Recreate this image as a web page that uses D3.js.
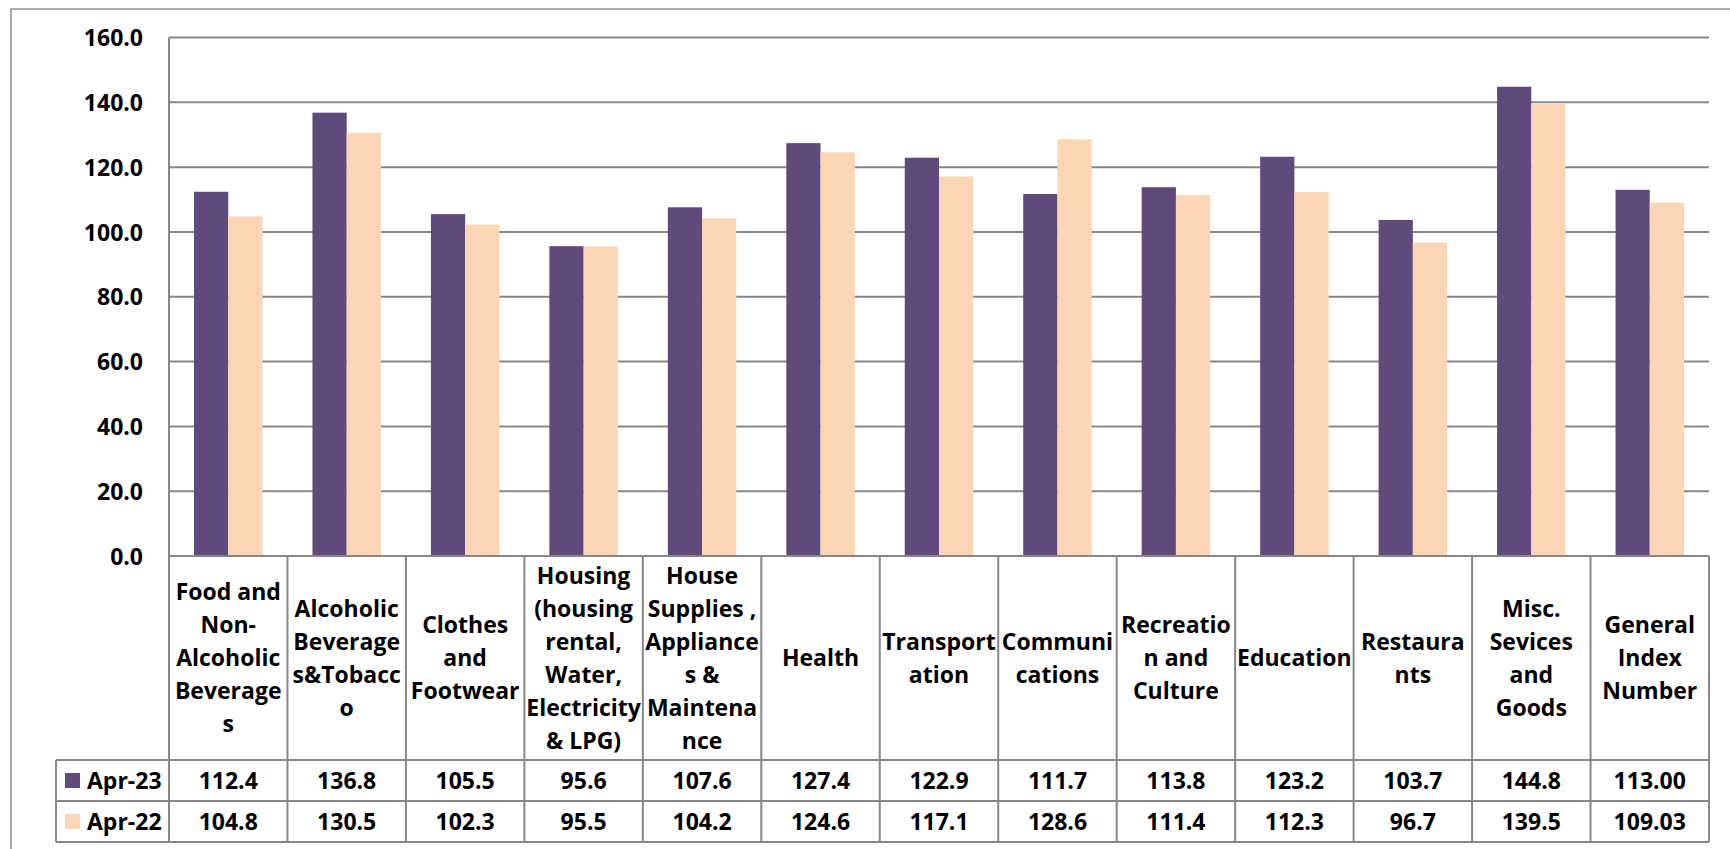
<!DOCTYPE html>
<html>
<head>
<meta charset="utf-8">
<script src="https://cdn.jsdelivr.net/npm/d3@7"></script>
<style>
  html, body { margin: 0; padding: 0; background: #fff; }
  svg { display: block; }
  text { font-family: "Open Sans", Lato, sans-serif; font-weight: bold; fill: #000; }
</style>
</head>
<body>
<svg id="chart" width="1730" height="849"></svg>
<script>
// ---- data ----
const categories = [
  "Food and\nNon-\nAlcoholic\nBeverage\ns",
  "Alcoholic\nBeverage\ns&Tobacc\no",
  "Clothes\nand\nFootwear",
  "Housing\n(housing\nrental,\nWater,\nElectricity\n& LPG)",
  "House\nSupplies ,\nAppliance\ns &\nMaintena\nnce",
  "Health",
  "Transport\nation",
  "Communi\ncations",
  "Recreatio\nn and\nCulture",
  "Education",
  "Restaura\nnts",
  "Misc.\nSevices\nand\nGoods",
  "General\nIndex\nNumber"
];
const seriesNames = ["Apr-23", "Apr-22"];
const apr23 = [112.4, 136.8, 105.5, 95.6, 107.6, 127.4, 122.9, 111.7, 113.8, 123.2, 103.7, 144.8, 113.00];
const apr22 = [104.8, 130.5, 102.3, 95.5, 104.2, 124.6, 117.1, 128.6, 111.4, 112.3, 96.7, 139.5, 109.03];
const apr23Labels = ["112.4","136.8","105.5","95.6","107.6","127.4","122.9","111.7","113.8","123.2","103.7","144.8","113.00"];
const apr22Labels = ["104.8","130.5","102.3","95.5","104.2","124.6","117.1","128.6","111.4","112.3","96.7","139.5","109.03"];
const yTicks = [0, 20, 40, 60, 80, 100, 120, 140, 160];
const colors = ["#604A7B", "#FCD5B5"];

// ---- layout ----
const svg = d3.select("#chart");
const L = 169, R = 1709, TOP = 37.5, BASE = 556;
const HEAD_BOTTOM = 760, ROW1_BOTTOM = 801, ROW2_BOTTOM = 842;
const LEG_LEFT = 56;
const gridColor = "#878787";
const FS = "23px";

// outer chart border (top & left visible)
svg.append("rect")
  .attr("x", 11).attr("y", 9).attr("width", 1760).attr("height", 900)
  .attr("fill", "none").attr("stroke", "#8f8f8f").attr("stroke-width", 1.5);

const y = d3.scaleLinear().domain([0, 160]).range([BASE, TOP]);
const x0 = d3.scaleBand().domain(d3.range(categories.length)).range([L, R]).padding(0);
const step = x0.bandwidth();
const x1 = d3.scaleBand().domain(seriesNames).range([step * 0.211, step * 0.789]).padding(0);

// gridlines
svg.append("g").selectAll("line").data(yTicks.filter(t => t > 0)).join("line")
  .attr("x1", L).attr("x2", R)
  .attr("y1", d => y(d)).attr("y2", d => y(d))
  .attr("stroke", gridColor).attr("stroke-width", 2);

// y axis tick labels
const yAxis = d3.axisLeft(y).tickValues(yTicks).tickFormat(d3.format(".1f")).tickSize(0).tickPadding(0);
const ya = svg.append("g").attr("transform", `translate(143,0)`).call(yAxis);
ya.select(".domain").remove();
ya.selectAll("text")
  .style("font-size", FS).style("font-family", "'Open Sans', Lato, sans-serif").style("font-weight", "bold")
  .attr("fill", "#000").attr("dy", "0.35em");

// bars
const series = [apr23, apr22];
const gBars = svg.append("g");
series.forEach((vals, si) => {
  gBars.selectAll(null).data(vals).join("rect")
    .attr("x", (d, i) => x0(i) + x1(seriesNames[si]))
    .attr("width", x1.bandwidth())
    .attr("y", d => y(d))
    .attr("height", d => y(0) - y(d))
    .attr("fill", colors[si]);
});

// left axis line
svg.append("line").attr("x1", L).attr("x2", L).attr("y1", TOP).attr("y2", ROW2_BOTTOM)
  .attr("stroke", gridColor).attr("stroke-width", 2);

// baseline
svg.append("line").attr("x1", L).attr("x2", R).attr("y1", BASE).attr("y2", BASE)
  .attr("stroke", gridColor).attr("stroke-width", 2);

// ---- data table ----
const tg = svg.append("g");
categories.forEach((c, i) => {
  tg.append("line").attr("x1", x0(i) + step).attr("x2", x0(i) + step)
    .attr("y1", BASE).attr("y2", ROW2_BOTTOM)
    .attr("stroke", gridColor).attr("stroke-width", 2);
});
[HEAD_BOTTOM, ROW1_BOTTOM, ROW2_BOTTOM].forEach(yy => {
  tg.append("line").attr("x1", LEG_LEFT).attr("x2", R).attr("y1", yy).attr("y2", yy)
    .attr("stroke", gridColor).attr("stroke-width", 2);
});
tg.append("line").attr("x1", LEG_LEFT).attr("x2", LEG_LEFT).attr("y1", HEAD_BOTTOM).attr("y2", ROW2_BOTTOM)
  .attr("stroke", gridColor).attr("stroke-width", 2);

// header labels
const lineH = 33;
categories.forEach((c, i) => {
  const lines = c.split("\n");
  const cx = x0(i) + step / 2;
  const cy = (BASE + HEAD_BOTTOM) / 2;
  const t = tg.append("text").attr("text-anchor", "middle").style("font-size", FS);
  lines.forEach((ln, k) => {
    t.append("tspan").attr("x", cx)
      .attr("y", cy + (k - (lines.length - 1) / 2) * lineH)
      .attr("dy", "0.35em").text(ln);
  });
});

// value rows
const rows = [
  { name: seriesNames[0], labels: apr23Labels, color: colors[0], top: HEAD_BOTTOM, bottom: ROW1_BOTTOM },
  { name: seriesNames[1], labels: apr22Labels, color: colors[1], top: ROW1_BOTTOM, bottom: ROW2_BOTTOM }
];
rows.forEach(r => {
  const cy = (r.top + r.bottom) / 2;
  tg.append("rect").attr("x", 65).attr("y", cy - 7.5).attr("width", 15).attr("height", 15).attr("fill", r.color);
  tg.append("text").attr("x", 87).attr("y", cy).attr("dy", "0.35em").style("font-size", FS).text(r.name);
  r.labels.forEach((v, i) => {
    tg.append("text").attr("x", x0(i) + step / 2).attr("y", cy).attr("dy", "0.35em")
      .attr("text-anchor", "middle").style("font-size", FS).text(v);
  });
});
</script>
</body>
</html>
